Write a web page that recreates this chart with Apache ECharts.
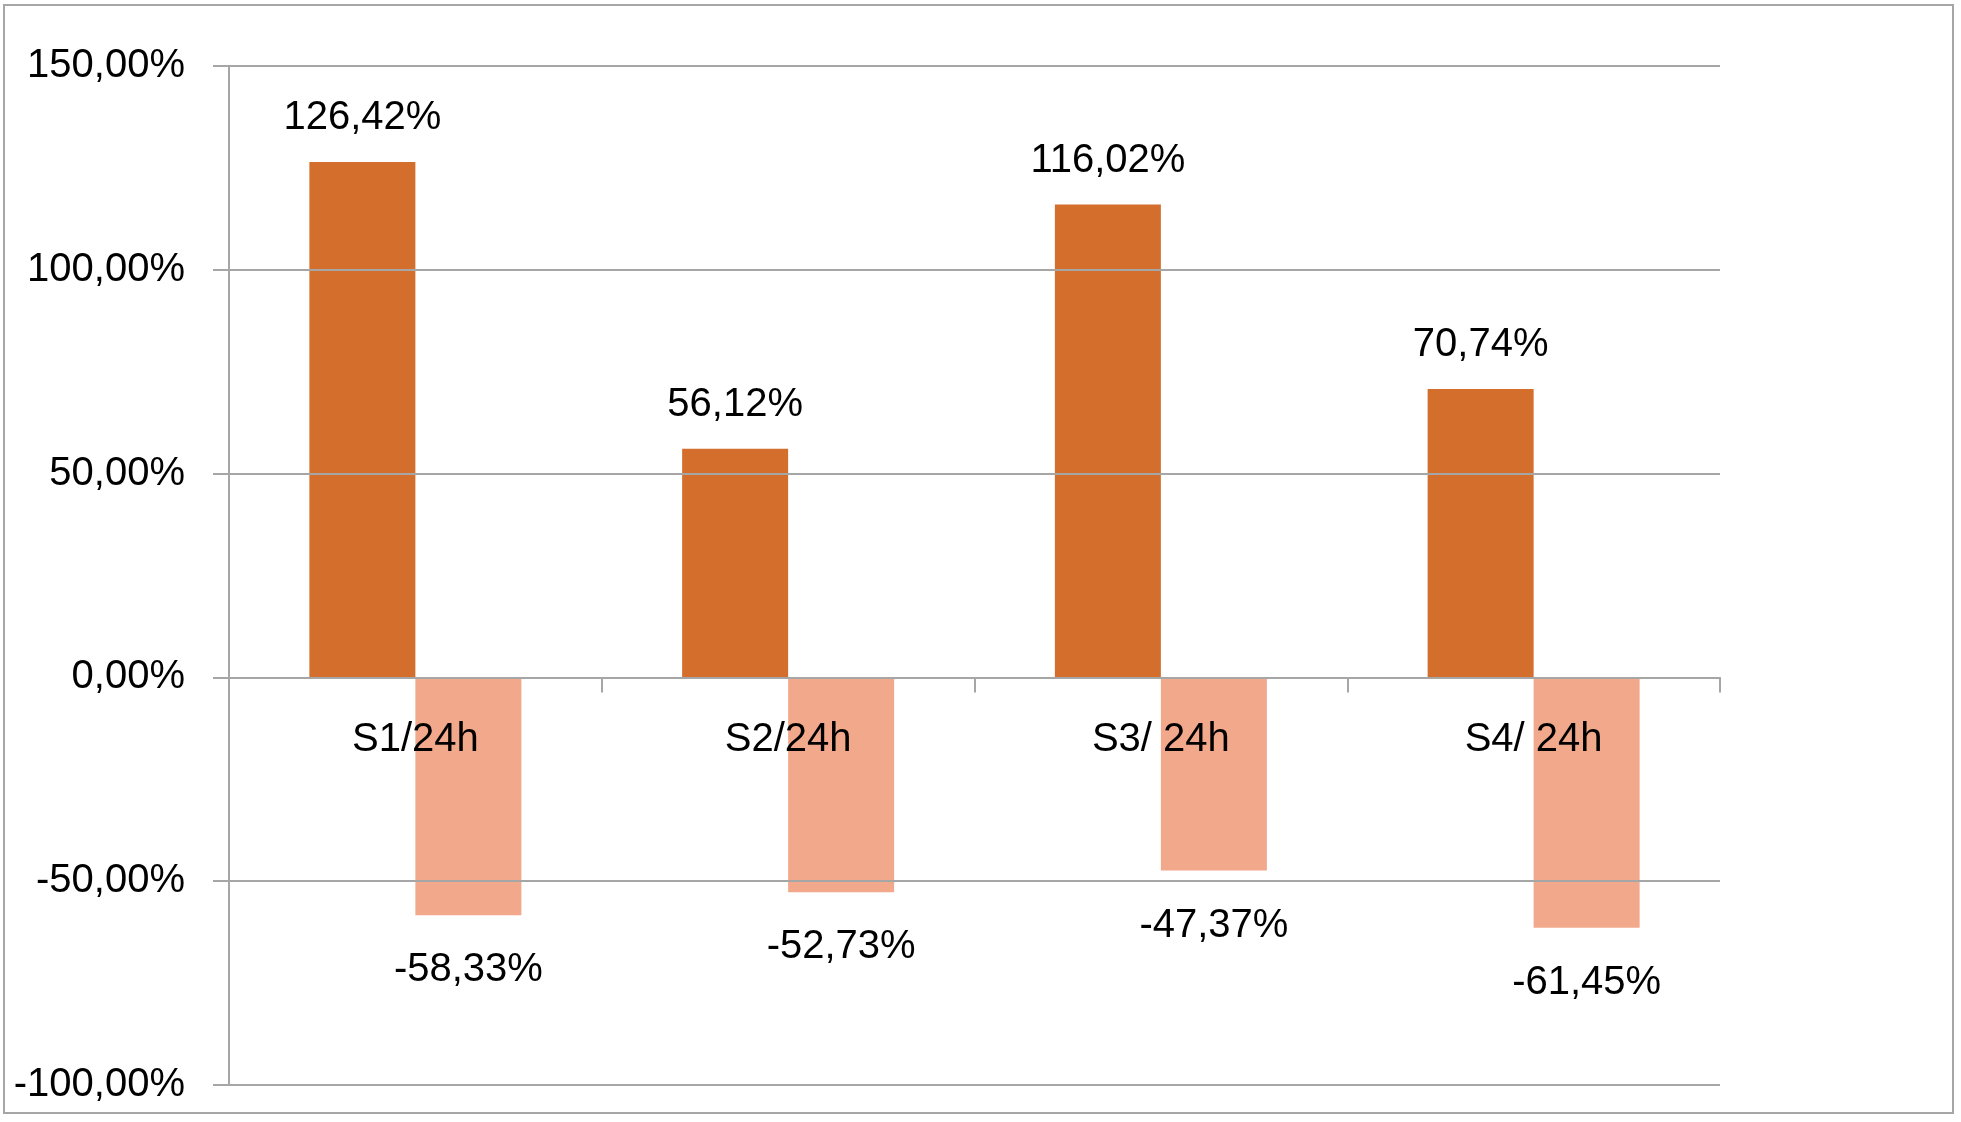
<!DOCTYPE html>
<html>
<head>
<meta charset="utf-8">
<script src="https://cdn.jsdelivr.net/npm/echarts@6/dist/echarts.min.js"></script>
<style>
html,body{margin:0;padding:0;background:#fff;}
#chart{width:1961px;height:1122px;}
</style>
</head>
<body>
<div id="chart"></div>
<script>
var categories = ['S1/24h', 'S2/24h', 'S3/ 24h', 'S4/ 24h'];
var positiveValues = [126.42, 56.12, 116.02, 70.74];
var negativeValues = [-58.33, -52.73, -47.37, -61.45];
var yTicks = { min: -100, max: 150, interval: 50 };

function pct(v) { return v.toFixed(2).replace('.', ',') + '%'; }

var FONT = '"Liberation Sans", Arial, sans-serif';
var GRID_TOP = 66, GRID_BOTTOM = 37, H = 1122;
var plotH = H - GRID_TOP - GRID_BOTTOM;
// shift the category axis up to the zero line
var zeroOffset = -plotH * (0 - yTicks.min) / (yTicks.max - yTicks.min);

var chart = echarts.init(document.getElementById('chart'), null, { renderer: 'canvas' });
chart.setOption({
  animation: false,
  backgroundColor: '#ffffff',
  textStyle: { fontFamily: FONT },
  graphic: [{
    type: 'rect',
    shape: { x: 4, y: 5, width: 1949, height: 1108 },
    style: { fill: 'none', stroke: '#a6a6a6', lineWidth: 2 },
    silent: true
  }],
  grid: { left: 229, right: 241, top: GRID_TOP, bottom: GRID_BOTTOM, containLabel: false, outerBoundsMode: 'none' },
  xAxis: {
    type: 'category',
    data: categories,
    z: 10,
    offset: zeroOffset,
    axisLine: { onZero: false, lineStyle: { color: '#a6a6a6', width: 2 } },
    axisTick: { show: true, length: 15, alignWithLabel: false, lineStyle: { color: '#a6a6a6', width: 2 } },
    axisLabel: { color: '#000', fontSize: 40, fontFamily: FONT, margin: 43 },
    splitLine: { show: false }
  },
  yAxis: {
    type: 'value',
    min: yTicks.min, max: yTicks.max, interval: yTicks.interval,
    z: 10,
    axisLine: { show: true, lineStyle: { color: '#a6a6a6', width: 2 } },
    axisTick: { show: true, length: 16, lineStyle: { color: '#a6a6a6', width: 2 } },
    axisLabel: { color: '#000', fontSize: 40, fontFamily: FONT, margin: 44, formatter: function (v) { return pct(v); } },
    splitLine: { show: true, lineStyle: { color: '#a6a6a6', width: 2 } }
  },
  series: [
    {
      name: 'pos', type: 'bar', data: positiveValues,
      barWidth: 106, barGap: '0%',
      itemStyle: { color: '#d36e2c' },
      label: { show: true, position: 'top', distance: 24, color: '#000', fontSize: 40, fontFamily: FONT, formatter: function (p) { return pct(p.value); } }
    },
    {
      name: 'neg', type: 'bar', data: negativeValues,
      barWidth: 106, barGap: '0%',
      itemStyle: { color: '#f1a88b' },
      label: { show: true, position: 'bottom', distance: 35, color: '#000', fontSize: 40, fontFamily: FONT, formatter: function (p) { return pct(p.value); } }
    }
  ]
});
</script>
</body>
</html>
